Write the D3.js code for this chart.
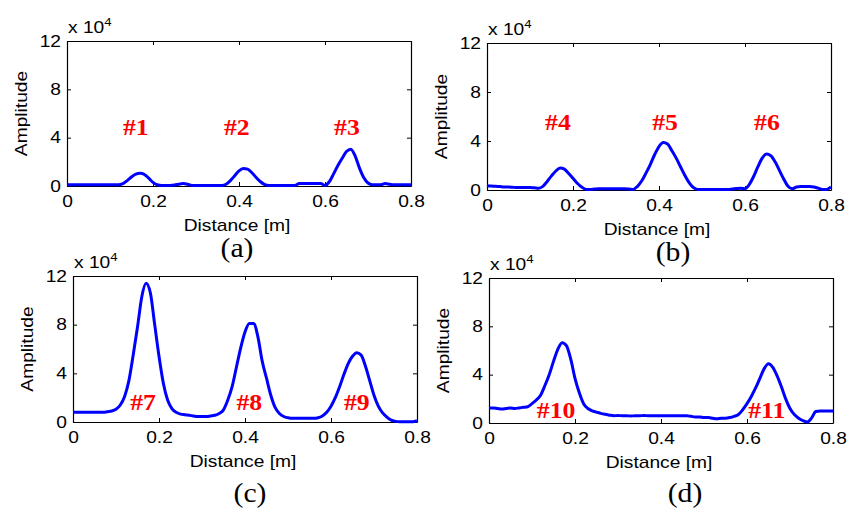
<!DOCTYPE html>
<html>
<head>
<meta charset="utf-8">
<script src="https://cdn.jsdelivr.net/npm/d3@7"></script>
<style>
    body { margin: 0; background: #fff; }
    svg { display: block; }
</style>
</head>
<body>
<svg id="chart" width="849" height="509"></svg>
<script>
// Sample grid: distance in metres, one sample per centimetre (0 .. 0.80 m)
var distance = d3.range(81).map(function (i) { return i / 100; });

// Amplitudes in units of 1e4
var ampA = [
    0.1, 0.1, 0.1, 0.1, 0.1, 0.1, 0.1, 0.1, 0.1, 0.1,
    0.1, 0.1, 0.1, 0.2, 0.45, 0.75, 0.98, 1.05, 0.95, 0.65,
    0.3, 0.1, 0.05, 0.05, 0.05, 0.08, 0.15, 0.2, 0.15, 0.05,
    0.05, 0.05, 0.05, 0.05, 0.05, 0.05, 0.05, 0.15, 0.45, 0.85,
    1.25, 1.45, 1.4, 1.1, 0.7, 0.35, 0.12, 0.05, 0.05, 0.05,
    0.05, 0.05, 0.05, 0.05, 0.2, 0.2, 0.2, 0.2, 0.2, 0.2,
    0.05, 0.35, 1.0, 1.7, 2.3, 2.85, 3.05, 2.5, 1.5, 0.7,
    0.25, 0.1, 0.1, 0.1, 0.2, 0.15, 0.1, 0.1, 0.1, 0.1,
    0.1
];
var ampB = [
    0.35, 0.33, 0.3, 0.28, 0.25, 0.25, 0.22, 0.2, 0.2, 0.2,
    0.2, 0.18, 0.15, 0.3, 0.7, 1.15, 1.55, 1.8, 1.7, 1.35,
    0.95, 0.55, 0.25, 0.05, 0.05, 0.08, 0.1, 0.1, 0.1, 0.1,
    0.1, 0.1, 0.1, 0.08, 0.05, 0.3, 0.75, 1.4, 2.1, 2.9,
    3.55, 3.88, 3.75, 3.2, 2.6, 1.9, 1.2, 0.6, 0.2, 0.05,
    0.05, 0.05, 0.05, 0.05, 0.05, 0.05, 0.05, 0.08, 0.12, 0.15,
    0.1, 0.45, 1.1, 1.9, 2.6, 2.93, 2.8, 2.3, 1.6, 0.9,
    0.3, 0.1, 0.25, 0.28, 0.28, 0.28, 0.25, 0.15, 0.05, 0.05,
    0.25
];
var ampC = [
    0.8, 0.8, 0.8, 0.8, 0.8, 0.8, 0.8, 0.8, 0.85, 0.9,
    1.05, 1.4, 2.1, 3.4, 5.5, 7.8, 10.3, 11.4, 10.6, 8.0,
    5.4, 3.2, 1.8, 1.1, 0.8, 0.65, 0.6, 0.55, 0.5, 0.45,
    0.45, 0.45, 0.5, 0.55, 0.7, 1.0, 1.8, 2.9, 4.5, 6.1,
    7.4, 8.1, 8.1, 7.0, 5.0, 3.6, 2.2, 1.2, 0.7, 0.45,
    0.35, 0.3, 0.3, 0.3, 0.3, 0.3, 0.3, 0.35, 0.5, 0.8,
    1.3, 2.0, 2.9, 3.9, 4.8, 5.4, 5.7, 5.5, 4.6, 3.4,
    2.2, 1.3, 0.75, 0.4, 0.15, 0.05, 0.02, 0.02, 0.02, 0.02,
    0.1
];
var ampD = [
    1.25, 1.25, 1.2, 1.15, 1.2, 1.25, 1.2, 1.25, 1.3, 1.35,
    1.6, 1.9, 2.3, 3.1, 4.0, 5.1, 6.1, 6.65, 6.4, 5.3,
    3.7, 2.5, 1.6, 1.2, 1.0, 0.9, 0.8, 0.72, 0.65, 0.6,
    0.62, 0.6, 0.6, 0.58, 0.6, 0.6, 0.62, 0.6, 0.6, 0.6,
    0.6, 0.6, 0.6, 0.6, 0.6, 0.6, 0.6, 0.55, 0.5, 0.5,
    0.45, 0.45, 0.4, 0.35, 0.4, 0.4, 0.45, 0.55, 0.7, 1.1,
    1.6, 2.2, 2.9, 3.7, 4.5, 4.9, 4.6, 3.9, 3.0, 2.0,
    1.2, 0.7, 0.4, 0.2, 0.08, 0.4, 0.95, 1.0, 1.0, 1.0,
    1.0
];

// Tick values
var xTicks = [0, 0.2, 0.4, 0.6, 0.8];
var yTicks = [0, 4, 8, 12];

// Defect tags: text, distance [m], amplitude [1e4] of the text baseline
var tagsA = [["#1", 0.16, 4.2], ["#2", 0.395, 4.2], ["#3", 0.651, 4.2]];
var tagsB = [["#4", 0.165, 4.9], ["#5", 0.414, 4.9], ["#6", 0.651, 4.9]];
var tagsC = [["#7", 0.163, 1.0], ["#8", 0.41, 1.0], ["#9", 0.66, 1.0]];
var tagsD = [["#10", 0.156, 0.4], ["#11", 0.646, 0.4]];

var panels = [
    { box: [67, 411, 41, 186], amp: ampA, tags: tagsA, name: "(a)", namePos: [237, 257] },
    { box: [487, 831, 43, 190], amp: ampB, tags: tagsB, name: "(b)", namePos: [673, 261] },
    { box: [73, 417, 276, 422], amp: ampC, tags: tagsC, name: "(c)", namePos: [250, 502] },
    { box: [489, 833, 278, 423], amp: ampD, tags: tagsD, name: "(d)", namePos: [685, 502] }
];

var SANS = "'Liberation Sans', Arial, sans-serif";
var SERIF = "'Liberation Serif', 'Times New Roman', serif";
var WIDE = 1.2; // MATLAB's Helvetica renders wider than Liberation Sans

window.addEventListener("load", function () {
    var svg = d3.select("#chart");
    panels.forEach(function (p) { drawPanel(svg, p); });
});

function place(sel, x, y, sx, rot) {
    sel.attr("transform", "translate(" + x + "," + y + ")" +
        (rot ? " rotate(" + rot + ")" : "") + " scale(" + sx + ",1)");
}

function drawPanel(svg, p) {
    var x0 = p.box[0], x1 = p.box[1], y0 = p.box[2], y1 = p.box[3];

    var x = d3.scaleLinear().domain([0, 0.8]).range([x0, x1]);
    var y = d3.scaleLinear().domain([0, 12]).range([y1, y0]);

    var g = svg.append("g");

    // Axes, MATLAB style: ticks pointing in on all four sides
    var bottom = g.append("g")
        .attr("transform", "translate(0," + y1 + ")")
        .call(d3.axisBottom(x).tickValues(xTicks).tickSizeInner(-4).tickSizeOuter(0)
            .tickPadding(10).tickFormat(function (d) { return d === 0 ? "0" : d3.format(".1f")(d); }));
    var left = g.append("g")
        .attr("transform", "translate(" + x0 + ",0)")
        .call(d3.axisLeft(y).tickValues(yTicks).tickSizeInner(-4).tickSizeOuter(0)
            .tickPadding(5).tickFormat(d3.format("d")));
    g.append("g")
        .attr("transform", "translate(0," + y0 + ")")
        .call(d3.axisTop(x).tickValues(xTicks).tickSizeInner(-4).tickSizeOuter(0).tickFormat(""));
    g.append("g")
        .attr("transform", "translate(" + x1 + ",0)")
        .call(d3.axisRight(y).tickValues(yTicks).tickSizeInner(-4).tickSizeOuter(0).tickFormat(""));

    g.selectAll(".domain").attr("stroke", "#000").attr("stroke-width", 1.2);
    g.selectAll(".tick line").attr("stroke", "#000");

    bottom.selectAll("text")
        .attr("font-family", SANS).attr("font-size", 16).attr("fill", "#000")
        .attr("transform", "scale(" + WIDE + ",1)");
    left.selectAll("text")
        .attr("font-family", SANS).attr("font-size", 16).attr("fill", "#000")
        .attr("transform", "scale(" + WIDE + ",1)");

    // Exponent label "x 10^4"
    var expo = g.append("text")
        .attr("font-family", SANS).attr("font-size", 16).attr("fill", "#000");
    expo.append("tspan").text("x 10");
    expo.append("tspan").attr("font-size", 11).attr("dy", -7).text("4");
    place(expo, x0 + 1, y0 - 8, WIDE);

    // Axis titles
    var yl = g.append("text")
        .attr("font-family", SANS).attr("font-size", 16).attr("text-anchor", "middle")
        .text("Amplitude");
    place(yl, x0 - 40, (y0 + y1) / 2, WIDE, -90);

    var xl = g.append("text")
        .attr("font-family", SANS).attr("font-size", 16).attr("text-anchor", "middle")
        .text("Distance [m]");
    place(xl, (x0 + x1) / 2 - 2, y1 + 45, WIDE);

    // Curve
    var line = d3.line()
        .x(function (d, i) { return x(distance[i]); })
        .y(function (d) { return y(d); })
        .curve(d3.curveMonotoneX);

    g.append("path")
        .datum(p.amp)
        .attr("d", line)
        .attr("fill", "none")
        .attr("stroke", "#0000ff")
        .attr("stroke-width", 3)
        .attr("stroke-linejoin", "round");

    // Defect tags
    p.tags.forEach(function (t) {
        var tag = g.append("text")
            .attr("font-family", SERIF).attr("font-size", 23).attr("font-weight", "bold")
            .attr("fill", "#ff0000").attr("text-anchor", "middle")
            .text(t[0]);
        place(tag, x(t[1]), y(t[2]), 1.12);
    });

    // Sub-figure letter
    var nm = g.append("text")
        .attr("font-family", SERIF).attr("font-size", 27).attr("text-anchor", "middle")
        .attr("fill", "#000")
        .text(p.name);
    place(nm, p.namePos[0], p.namePos[1], 1.1);
}
</script>
</body>
</html>
